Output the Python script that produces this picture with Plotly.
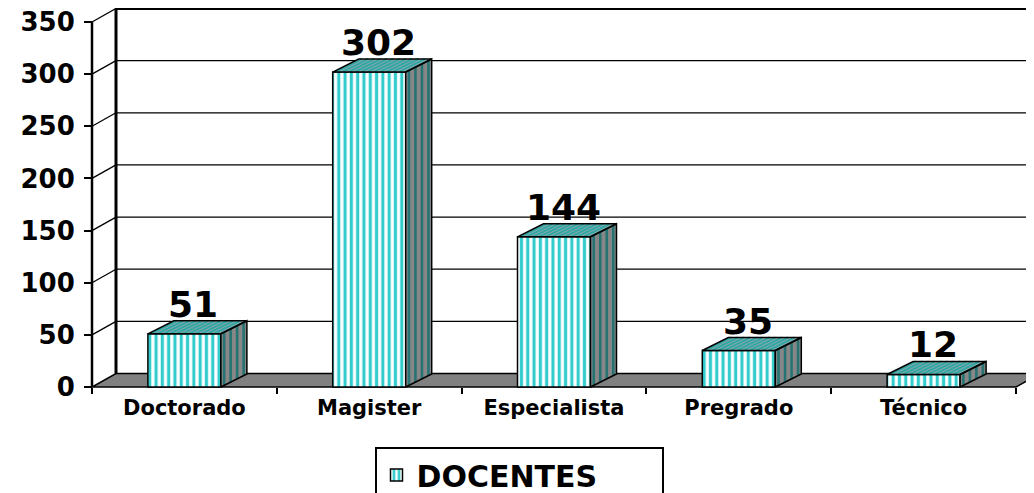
import plotly.graph_objects as go

# ---------------- data ----------------
categories = ["Doctorado", "Magister", "Especialista", "Pregrado", "Técnico"]
docentes = [51, 302, 144, 35, 12]
y_ticks = [0, 50, 100, 150, 200, 250, 300, 350]
series_name = "DOCENTES"

# ---------------- geometry / style ----------------
OFF = 8                      # default page (body) margin of the html page
W, H = 1034 - OFF, 493 - OFF
X_PX = 184.8                 # pixels per category step
Y_PX = 1.04286               # pixels per value unit
X0_PX = 184.4 - OFF          # pixel position of first category centre
Y0_PX = 387 - OFF            # pixel position of value 0 (front plane)
XR = [-X0_PX / X_PX, (W - X0_PX) / X_PX]
YR = [-(H - Y0_PX) / Y_PX, Y0_PX / Y_PX]

BW = 0.395                          # bar width (category units)
DXW, DYW = 24 / X_PX, 13.5 / Y_PX   # wall depth offset
DXB, DYB = 26 / X_PX, 13 / Y_PX     # bar depth offset
P_TOP = 6.3 / X_PX                  # stripe period on top face
P_SIDE = 6.5 / X_PX                 # stripe period on side face

LEFT = -0.5
RIGHT = len(categories) - 0.5
YMAX = max(y_ticks)

FONT = "DejaVu Sans"
CYAN = "#33CCCC"
TOP_BG, TOP_ST = "#ABABAB", "#33A6A6"
SIDE_BG, SIDE_ST = "#878787", "#267373"
FLOOR = "#808080"

fig = go.Figure()

# ---------------- walls, floor, gridlines (shapes) ----------------
shapes = []
shapes.append(dict(
    type="path", xref="x", yref="y", layer="below",
    path=(f"M {LEFT},0 L {RIGHT},0 L {RIGHT + DXW},{DYW} "
          f"L {LEFT + DXW},{DYW} Z"),
    fillcolor=FLOOR, line=dict(color="black", width=1.5)))
for v in y_ticks[1:]:
    shapes.append(dict(
        type="line", xref="x", yref="y", layer="below",
        x0=LEFT + DXW, x1=XR[1] + 1, y0=v + DYW, y1=v + DYW,
        line=dict(color="black", width=3 if v == YMAX else 1.3)))
    shapes.append(dict(
        type="line", xref="x", yref="y", layer="below",
        x0=LEFT, x1=LEFT + DXW, y0=v, y1=v + DYW,
        line=dict(color="black", width=1.3)))
shapes.append(dict(
    type="line", xref="x", yref="y", layer="below",
    x0=LEFT + DXW, x1=LEFT + DXW, y0=DYW, y1=YMAX + DYW,
    line=dict(color="black", width=3)))
shapes.append(dict(
    type="line", xref="x", yref="y", layer="below",
    x0=LEFT, x1=LEFT, y0=0, y1=YMAX,
    line=dict(color="black", width=2.5)))

# ---------------- bars: front faces ----------------
xs = list(range(len(categories)))
fig.add_trace(go.Bar(
    x=xs, y=docentes, width=BW, name=series_name,
    marker=dict(color=CYAN,
                line=dict(color="black", width=1.5),
                pattern=dict(shape="|", fgcolor=CYAN, bgcolor="white",
                             size=6.3, solidity=0.5, fillmode="replace")),
    hoverinfo="skip", showlegend=True))

# ---------------- bars: top and side faces ----------------
top_x, top_y, side_x, side_y = [], [], [], []
tst_x, tst_y, sst_x, sst_y = [], [], [], []
for i, v in enumerate(docentes):
    xa, xb = i - BW / 2, i + BW / 2
    top_x += [xa, xb, xb + DXB, xa + DXB, xa, None]
    top_y += [v, v, v + DYB, v + DYB, v, None]
    side_x += [xb, xb + DXB, xb + DXB, xb, xb, None]
    side_y += [0, DYB, v + DYB, v, 0, None]
    k = 0
    while xa + (k + 0.5) * P_TOP < xb:
        sx = xa + (k + 0.5) * P_TOP
        tst_x += [sx, sx + DXB, None]
        tst_y += [v, v + DYB, None]
        k += 1
    k = 0
    while (k + 0.5) * P_SIDE < DXB:
        t = (k + 0.5) * P_SIDE / DXB
        sx = xb + t * DXB
        sst_x += [sx, sx, None]
        sst_y += [t * DYB, v + t * DYB, None]
        k += 1

common = dict(mode="lines", hoverinfo="skip", showlegend=False)
fig.add_trace(go.Scatter(x=top_x, y=top_y, fill="toself", fillcolor=TOP_BG,
                         line=dict(width=0, color=TOP_BG), **common))
fig.add_trace(go.Scatter(x=side_x, y=side_y, fill="toself", fillcolor=SIDE_BG,
                         line=dict(width=0, color=SIDE_BG), **common))
fig.add_trace(go.Scatter(x=tst_x, y=tst_y, line=dict(width=2.2, color=TOP_ST), **common))
fig.add_trace(go.Scatter(x=sst_x, y=sst_y, line=dict(width=2.6, color=SIDE_ST), **common))
fig.add_trace(go.Scatter(x=top_x, y=top_y, line=dict(width=1.5, color="black"), **common))
fig.add_trace(go.Scatter(x=side_x, y=side_y, line=dict(width=1.5, color="black"), **common))

# ---------------- data labels ----------------
annotations = []
for i, v in enumerate(docentes):
    annotations.append(dict(
        x=i + 9 / X_PX, y=v + DYB, xref="x", yref="y",
        text=str(v), showarrow=False, yanchor="bottom", yshift=-6,
        font=dict(family=FONT, size=36, color="black", weight="bold")))

fig.update_layout(
    width=W, height=H,
    margin=dict(l=0, r=0, t=0, b=0, autoexpand=False),
    paper_bgcolor="white", plot_bgcolor="white",
    shapes=shapes, annotations=annotations,
    barmode="overlay",
    xaxis=dict(range=XR, anchor="free", position=(H - Y0_PX) / H,
               tickvals=xs, ticktext=categories, ticks="",
               ticklabelstandoff=6, ticklabeloverflow="allow",
               showgrid=False, zeroline=False, showline=False,
               automargin=False, fixedrange=True,
               tickfont=dict(family=FONT, size=21, color="black", weight="bold"),
               minor=dict(tickvals=[x + 0.5 for x in [-1] + xs], ticks="outside",
                          ticklen=6, tickwidth=2, tickcolor="black", showgrid=False)),
    yaxis=dict(range=YR, anchor="free", position=(X0_PX - 0.5 * X_PX) / W,
               tickvals=y_ticks, ticks="outside", ticklen=8, tickwidth=2,
               tickcolor="black", showgrid=False, zeroline=False, showline=False,
               automargin=False, fixedrange=True, ticklabeloverflow="allow",
               ticklabelstandoff=4,
               tickfont=dict(family=FONT, size=26, color="black", weight="bold")),
    legend=dict(x=(519 - OFF) / W, xanchor="center", y=1 - (447 - OFF) / H,
                yanchor="top", orientation="h", bgcolor="white",
                bordercolor="black", borderwidth=2, entrywidth=240,
                font=dict(family=FONT, size=30, color="black", weight="bold")),
)

fig.write_html("out.html")
